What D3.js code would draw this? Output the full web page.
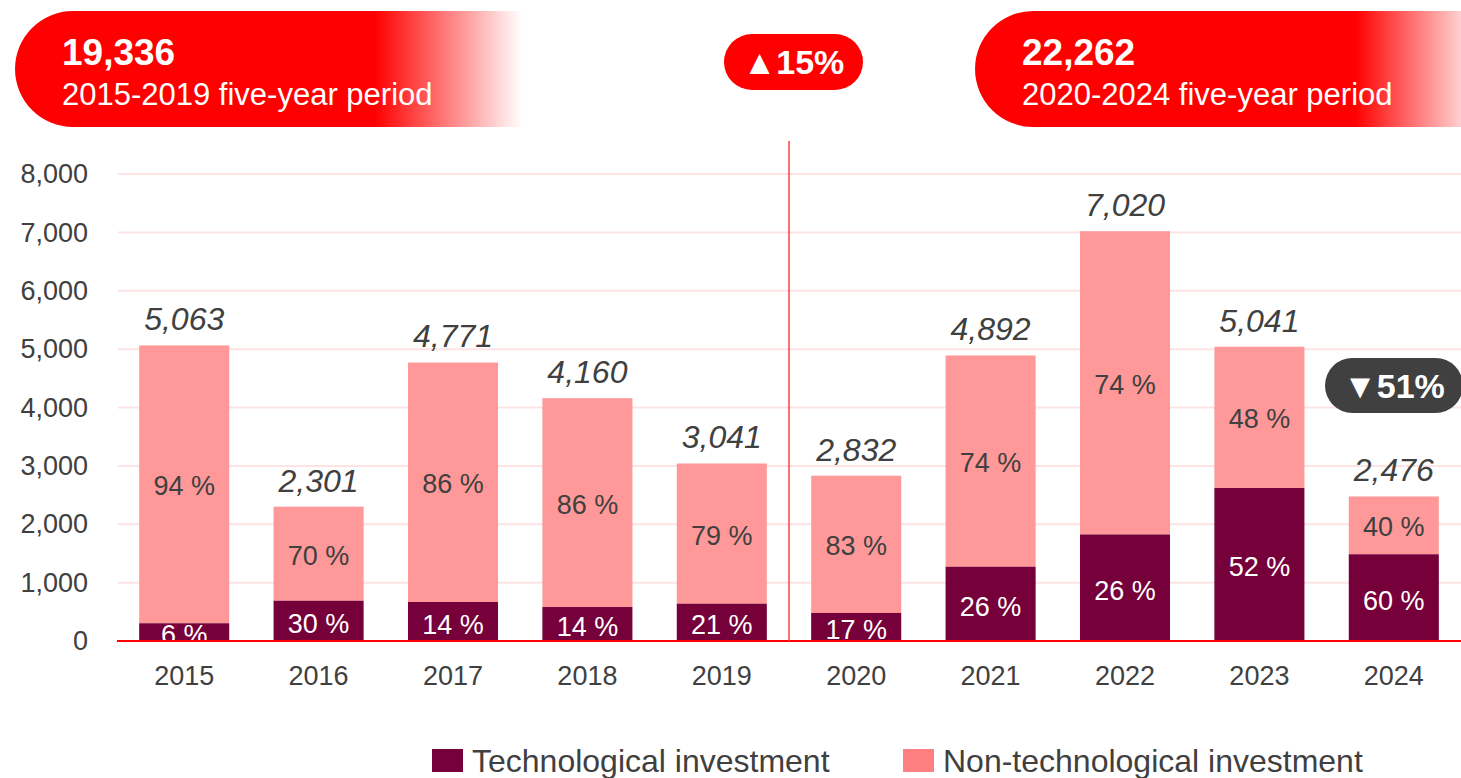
<html>
    <head>
        <script src="https://d3js.org/d3.v7.min.js"></script>
        <style>
            body { margin: 0; background: #fff; }
            text { font-family: "Liberation Sans", Arial, sans-serif; }
        </style>
    </head>
    <body>
        <svg id="svg" width="1461" height="778"></svg>
        <script>
            // data
            var years = ["2015","2016","2017","2018","2019","2020","2021","2022","2023","2024"];
            var totals = [5063, 2301, 4771, 4160, 3041, 2832, 4892, 7020, 5041, 2476];
            var techValues = [304, 690, 668, 582, 639, 481, 1272, 1825, 2621, 1486];
            var techPct = ["6 %","30 %","14 %","14 %","21 %","17 %","26 %","26 %","52 %","60 %"];
            var nonTechPct = ["94 %","70 %","86 %","86 %","79 %","83 %","74 %","74 %","48 %","40 %"];
            var yTicks = [0, 1000, 2000, 3000, 4000, 5000, 6000, 7000, 8000];
            var periodTotals = ["19,336", "22,262"];
            var periodLabels = ["2015-2019 five-year period", "2020-2024 five-year period"];
            var legendLabels = ["Technological investment", "Non-technological investment"];

            var techColor = "#76003a";
            var nonTechColor = "#ff9999";
            var textColor = "#404040";

            var svg = d3.select("svg");
            var defs = svg.append("defs");

            var x = d3.scaleBand().domain(years).range([117, 1461]).paddingInner(0.33).paddingOuter(0.165);
            var y = d3.scaleLinear().domain([0, 8000]).range([641, 174]);

            // grid
            svg.append("g").selectAll("line").data(yTicks.slice(1)).enter().append("line")
                .attr("x1", 118).attr("x2", 1461)
                .attr("y1", function(d){ return y(d); }).attr("y2", function(d){ return y(d); })
                .attr("stroke", "#fde3e3").attr("stroke-width", 2);

            // y axis labels
            var yAxis = d3.axisLeft(y).tickValues(yTicks).tickFormat(d3.format(",")).tickSize(0).tickPadding(0);
            var ya = svg.append("g").attr("transform", "translate(88,0)").call(yAxis);
            ya.select(".domain").remove();
            ya.selectAll("text").attr("fill", textColor).style("font-size", "27px")
                .style("font-family", "'Liberation Sans', Arial, sans-serif");

            defs.append("clipPath").attr("id", "plotclip").append("rect")
                .attr("x", 100).attr("y", 100).attr("width", 1400).attr("height", 541);

            var bars = svg.append("g");

            // non-technological (upper) segment
            bars.selectAll(".nt").data(years).enter().append("rect")
                .attr("x", function(d){ return x(d); })
                .attr("width", x.bandwidth())
                .attr("y", function(d, i){ return y(totals[i]); })
                .attr("height", function(d, i){ return y(techValues[i]) - y(totals[i]); })
                .attr("fill", nonTechColor);

            // technological (lower) segment
            bars.selectAll(".t").data(years).enter().append("rect")
                .attr("x", function(d){ return x(d); })
                .attr("width", x.bandwidth())
                .attr("y", function(d, i){ return y(techValues[i]); })
                .attr("height", function(d, i){ return y(0) - y(techValues[i]); })
                .attr("fill", techColor);

            var labels = svg.append("g").attr("clip-path", "url(#plotclip)");
            labels.selectAll(".ntl").data(years).enter().append("text")
                .attr("x", function(d){ return x(d) + x.bandwidth()/2; })
                .attr("y", function(d, i){ return (y(totals[i]) + y(techValues[i]))/2 + 11; })
                .attr("text-anchor", "middle").attr("fill", textColor).style("font-size", "27px")
                .text(function(d, i){ return nonTechPct[i]; });
            labels.selectAll(".tl").data(years).enter().append("text")
                .attr("x", function(d){ return x(d) + x.bandwidth()/2; })
                .attr("y", function(d, i){ return (y(0) + y(techValues[i]))/2 + 12; })
                .attr("text-anchor", "middle").attr("fill", "#fff").style("font-size", "27px")
                .text(function(d, i){ return techPct[i]; });

            // totals
            svg.append("g").selectAll("text").data(years).enter().append("text")
                .attr("x", function(d){ return x(d) + x.bandwidth()/2; })
                .attr("y", function(d, i){ return y(totals[i]) - 15; })
                .attr("text-anchor", "middle").attr("fill", textColor)
                .style("font-size", "32px").style("font-style", "italic")
                .text(function(d, i){ return d3.format(",")(totals[i]); });

            // zero line
            svg.append("line").attr("x1", 117).attr("x2", 1461).attr("y1", y(0)).attr("y2", y(0))
                .attr("stroke", "#ff0000").attr("stroke-width", 2);

            // period divider
            var divX = (x("2019") + x.bandwidth() + x("2020"))/2;
            svg.append("line").attr("x1", divX).attr("x2", divX).attr("y1", 141).attr("y2", y(0))
                .attr("stroke", "#ff4040").attr("stroke-width", 1.5);

            // x axis labels
            var xAxis = d3.axisBottom(x).tickSize(0).tickPadding(0);
            var xa = svg.append("g").attr("transform", "translate(0,685)").call(xAxis);
            xa.select(".domain").remove();
            xa.selectAll("text").attr("fill", textColor).attr("dy", 0).style("font-size", "27px")
                .style("font-family", "'Liberation Sans', Arial, sans-serif");

            // header pills
            function headerPill(x0, x1, fadeStart, id, total, label) {
                var g = defs.append("linearGradient").attr("id", id)
                    .attr("gradientUnits", "userSpaceOnUse")
                    .attr("x1", x0).attr("x2", x1).attr("y1", 0).attr("y2", 0);
                g.append("stop").attr("offset", (fadeStart - x0)/(x1 - x0)).attr("stop-color", "#ff0000");
                g.append("stop").attr("offset", 1).attr("stop-color", "#ff0000").attr("stop-opacity", 0);
                var top = 11, h = 116, r = 58;
                svg.append("path")
                    .attr("d", "M" + (x0 + r) + "," + top + "L" + x1 + "," + top + "L" + x1 + "," + (top + h) +
                        "L" + (x0 + r) + "," + (top + h) + "A" + r + "," + r + " 0 0 1 " + (x0 + r) + "," + top + "Z")
                    .attr("fill", "url(#" + id + ")");
                svg.append("text").attr("x", x0 + 47).attr("y", 65).attr("fill", "#fff")
                    .style("font-size", "37px").style("font-weight", "bold").text(total);
                svg.append("text").attr("x", x0 + 47).attr("y", 105).attr("fill", "#fff")
                    .style("font-size", "31px").text(label);
            }
            headerPill(15, 522, 375, "fadeL", periodTotals[0], periodLabels[0]);
            headerPill(975, 1485, 1355, "fadeR", periodTotals[1], periodLabels[1]);

            // change badges
            function badge(cx, cy, w, h, fill, txt) {
                svg.append("rect").attr("x", cx - w/2).attr("y", cy - h/2).attr("width", w).attr("height", h)
                    .attr("rx", h/2).attr("ry", h/2).attr("fill", fill);
                svg.append("text").attr("x", cx).attr("y", cy + 12).attr("text-anchor", "middle")
                    .attr("fill", "#fff").style("font-size", "34px").style("font-weight", "bold").text(txt);
            }
            badge(793.5, 62, 139, 56, "#ff0000", "\u25B215%");
            badge(1394, 385.5, 138, 55, "#404040", "\u25BC51%");

            // legend
            var legColors = [techColor, "#ff8080"];
            var legX = [432, 903];
            legendLabels.forEach(function(l, i){
                svg.append("rect").attr("x", legX[i]).attr("y", 749).attr("width", 31).attr("height", 23)
                    .attr("fill", legColors[i]);
                svg.append("text").attr("x", legX[i] + 40).attr("y", 772).attr("fill", textColor)
                    .style("font-size", "32px").text(l);
            });
        </script>
    </body>
</html>
